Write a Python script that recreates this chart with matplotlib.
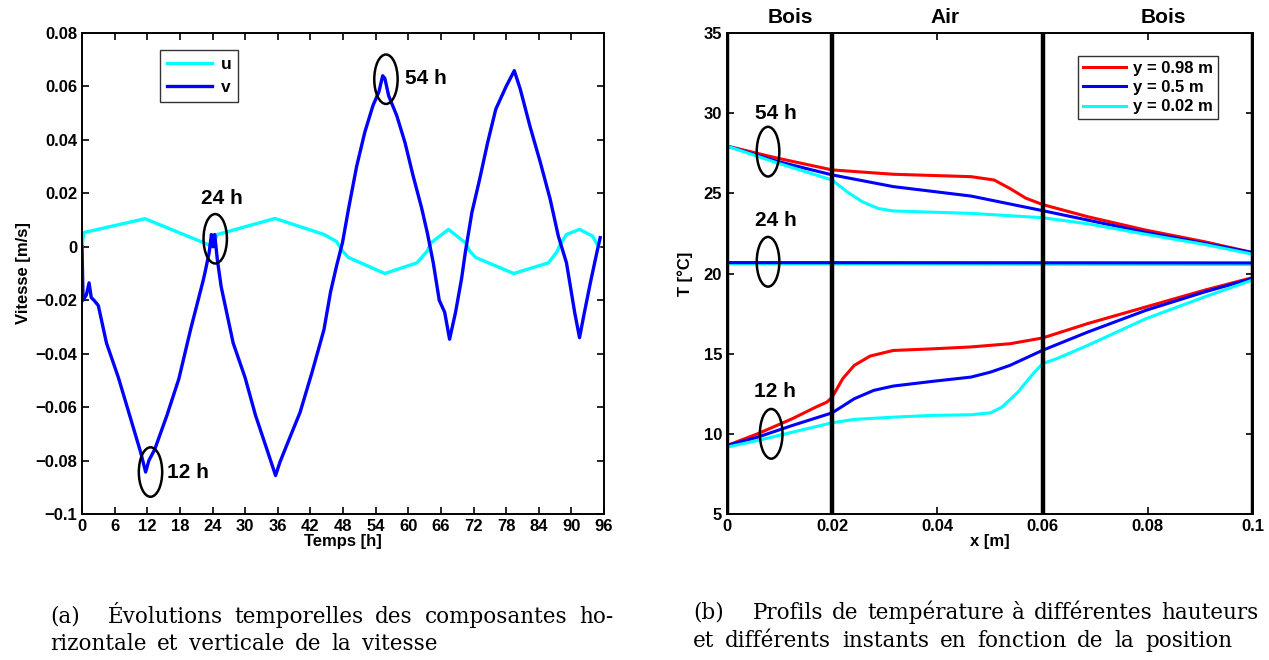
import numpy as np
import matplotlib; matplotlib.use("Agg")
import matplotlib.pyplot as plt
from matplotlib.patches import Ellipse

CYAN, BLUE, RED = "#00FFFF", "#0000FF", "#FF0000"

# ---------- (a) velocity components vs time ----------
t_u = [0, 0.3, 11.6, 23.0, 23.8, 24.9, 35.5, 44.5, 46.8, 47.9, 49.0, 55.7, 61.6, 63.5,
       64.2, 67.4, 70.5, 71.3, 72.4, 79.4, 85.8, 87.3, 88.0, 89.1, 91.5, 93.9, 95.0]
u = [0.0, 0.0053, 0.0105, 0.001, 0.0, 0.0046, 0.0106, 0.0046, 0.002, -0.0016, -0.004, -0.010,
     -0.006, -0.0016, 0.0015, 0.0065, 0.0015, -0.0016, -0.004, -0.010, -0.006, -0.002, 0.001,
     0.0046, 0.0065, 0.004, 0.0]
t_v = [0, 0.2, 0.8, 1.3, 1.7, 2.2, 3.0, 4.5, 6.7, 8.9, 10.8, 11.7, 12.3, 13.4, 15.6, 17.8,
       20.0, 22.3, 22.6, 23.4, 23.8, 24.1, 24.4, 24.9, 25.6, 27.8, 30.0, 31.9, 34.2, 35.6,
       36.4, 37.9, 40.1, 42.3, 44.5, 45.7, 46.8, 47.9, 49.0, 50.5, 52.0, 53.5, 54.6, 55.3,
       55.7, 56.4, 57.9, 59.4, 60.9, 62.4, 63.5, 64.6, 65.7, 66.7, 67.6, 68.7, 69.8, 70.5,
       71.7, 73.1, 74.6, 76.1, 78.0, 79.5, 80.6, 82.4, 84.3, 86.1, 87.6, 89.1, 89.8, 90.6,
       91.5, 92.4, 93.5, 94.7, 95.3]
v = [0.0, -0.020, -0.018, -0.0135, -0.019, -0.020, -0.022, -0.036, -0.049, -0.064, -0.077,
     -0.0843, -0.080, -0.0757, -0.0632, -0.0495, -0.0307, -0.0125, -0.0098, -0.002, 0.0046,
     0.0, 0.0046, -0.005, -0.015, -0.036, -0.049, -0.063, -0.077, -0.0856, -0.0806, -0.073,
     -0.062, -0.047, -0.031, -0.017, -0.0073, 0.0015, 0.014, 0.030, 0.0428, 0.0528, 0.058,
     0.064, 0.063, 0.0565, 0.049, 0.039, 0.0265, 0.015, 0.0053, -0.006, -0.020, -0.0245,
     -0.0346, -0.0245, -0.012, -0.002, 0.0128, 0.025, 0.039, 0.0515, 0.060, 0.0659, 0.059,
     0.045, 0.0315, 0.0178, 0.004, -0.006, -0.0146, -0.0245, -0.034, -0.0245, -0.0134,
     -0.002, 0.0034]
marks_a = [("12 h", 12.6, -0.0843, 15.6, -0.0846),
           ("24 h", 24.5, 0.003, 21.8, 0.018),
           ("54 h", 55.9, 0.0627, 59.4, 0.063)]

# ---------- (b) temperature profiles ----------
x54_r = [0, 0.0095, 0.02, 0.0316, 0.0464, 0.0508, 0.0538, 0.0568, 0.06, 0.0686, 0.0797, 0.0908, 0.1]
T54_r = [27.95, 27.2, 26.46, 26.19, 26.04, 25.83, 25.3, 24.7, 24.3, 23.54, 22.7, 21.98, 21.3]
x54_b = [0, 0.0095, 0.02, 0.0316, 0.0464, 0.06, 0.0686, 0.0797, 0.0908, 0.1]
T54_b = [27.95, 27.0, 26.15, 25.42, 24.83, 23.92, 23.33, 22.56, 21.88, 21.3]
x54_c = [0, 0.0095, 0.02, 0.0228, 0.0257, 0.0287, 0.0316, 0.0464, 0.06, 0.0686, 0.0797, 0.0908, 0.1]
T54_c = [27.95, 26.9, 25.83, 25.1, 24.48, 24.06, 23.9, 23.75, 23.48, 23.1, 22.44, 21.81, 21.2]
x24 = [0, 0.1]
T24_r = [20.65, 20.62]
T24_b = [20.68, 20.66]
T24_c = [20.6, 20.56]
x12_r = [0, 0.0058, 0.0124, 0.0169, 0.019, 0.02, 0.022, 0.0242, 0.0272, 0.0316, 0.039,
         0.0464, 0.0538, 0.06, 0.0686, 0.0797, 0.0908, 0.1]
T12_r = [9.27, 10.0, 10.94, 11.67, 11.98, 12.29, 13.44, 14.27, 14.85, 15.2, 15.3, 15.42,
         15.62, 15.98, 16.88, 17.92, 18.96, 19.75]
x12_b = [0, 0.0058, 0.0124, 0.02, 0.0242, 0.0279, 0.0316, 0.039, 0.0464, 0.0501, 0.0538,
         0.06, 0.0686, 0.0797, 0.0908, 0.1]
T12_b = [9.27, 9.79, 10.52, 11.31, 12.19, 12.71, 12.98, 13.27, 13.54, 13.85, 14.27, 15.21,
         16.35, 17.71, 18.85, 19.7]
x12_c = [0, 0.0058, 0.0124, 0.02, 0.0242, 0.0316, 0.039, 0.0464, 0.0501, 0.0523, 0.0553,
         0.0582, 0.06, 0.0627, 0.0686, 0.0797, 0.0908, 0.1]
T12_c = [9.17, 9.58, 10.1, 10.69, 10.9, 11.04, 11.15, 11.19, 11.31, 11.67, 12.6, 13.75,
         14.38, 14.69, 15.52, 17.19, 18.54, 19.6]
walls = [0, 0.02, 0.06, 0.1]
zones = [("Bois", 0.012), ("Air", 0.0414), ("Bois", 0.083)]
marks_b = [("54 h", 0.0078, 27.6, 0.0092, 30.0),
           ("24 h", 0.0078, 20.73, 0.0092, 23.3),
           ("12 h", 0.0084, 10.0, 0.0092, 12.65)]

# caption lines: (tag, text, x_start_px, x_text_px, x_end_px, baseline_px)
captions = [
    ("(a)", "\u00c9volutions temporelles des composantes ho-", 50, 108, 613, 623),
    ("", "rizontale et verticale de la vitesse", 50, 50, 437, 650),
    ("(b)", "Profils de temp\u00e9rature \u00e0 diff\u00e9rentes hauteurs", 693, 753, 1258, 619),
    ("", "et diff\u00e9rents instants en fonction de la position", 693, 693, 1232, 647),
]

plt.rcParams.update({
    "font.family": "Liberation Sans", "font.weight": "bold",
    "axes.linewidth": 1.4, "xtick.direction": "in", "ytick.direction": "in",
    "xtick.top": True, "ytick.right": True,
    "xtick.major.size": 5, "ytick.major.size": 5,
    "xtick.major.width": 1.2, "ytick.major.width": 1.2,
    "xtick.labelsize": 12, "ytick.labelsize": 12,
    "axes.labelsize": 12, "axes.labelweight": "bold",
})

W, H = 1269, 660
fig = plt.figure(figsize=(W / 100, H / 100), dpi=100)

ax = fig.add_axes([82 / W, 1 - 514 / H, 522 / W, 481 / H])
ax.plot(t_u, u, color=CYAN, lw=2.4, label="u")
ax.plot(t_v, v, color=BLUE, lw=2.4, label="v")
for lab, cx, cy, tx, ty in marks_a:
    ax.add_patch(Ellipse((cx, cy), 4.3, 0.0185, fill=False, ec="black", lw=1.8, zorder=5))
    ax.text(tx, ty, lab, fontsize=15, fontweight="bold", va="center", ha="left")
ax.set_xlim(0, 96); ax.set_ylim(-0.1, 0.08)
ax.set_xticks(np.arange(0, 97, 6))
ax.set_yticks([-0.1, -0.08, -0.06, -0.04, -0.02, 0, 0.02, 0.04, 0.06, 0.08])
ax.set_yticklabels(["\u22120.1", "\u22120.08", "\u22120.06", "\u22120.04", "\u22120.02",
                    "0", "0.02", "0.04", "0.06", "0.08"])
ax.set_xlabel("Temps [h]", labelpad=0)
ax.set_ylabel("Vitesse [m/s]", labelpad=3)
leg = ax.legend(loc="upper left", bbox_to_anchor=(0.149, 0.965), borderaxespad=0,
                fancybox=False, edgecolor="black", handlelength=2.6, handletextpad=0.5,
                borderpad=0.4, labelspacing=0.45, prop={"weight": "bold", "size": 12.5})
leg.get_frame().set_linewidth(1.0)

ax = fig.add_axes([727 / W, 1 - 514 / H, 526 / W, 481 / H])
ax.plot(x54_r, T54_r, color=RED, lw=2.2, label="y = 0.98 m")
ax.plot(x54_b, T54_b, color=BLUE, lw=2.2, label="y = 0.5 m")
ax.plot(x54_c, T54_c, color=CYAN, lw=2.2, label="y = 0.02 m")
ax.plot(x24, T24_r, color=RED, lw=2.2)
ax.plot(x24, T24_c, color=CYAN, lw=2.2)
ax.plot(x24, T24_b, color=BLUE, lw=2.2)
ax.plot(x12_r, T12_r, color=RED, lw=2.2)
ax.plot(x12_b, T12_b, color=BLUE, lw=2.2)
ax.plot(x12_c, T12_c, color=CYAN, lw=2.2)
for w in walls:
    ax.axvline(w, color="black", lw=3.2, zorder=6)
for name, xc in zones:
    ax.text(xc, 35.35, name, fontsize=15, fontweight="bold", ha="center", va="bottom")
for lab, cx, cy, tx, ty in marks_b:
    ax.add_patch(Ellipse((cx, cy), 0.0043, 3.1, fill=False, ec="black", lw=1.8, zorder=5))
    ax.text(tx, ty, lab, fontsize=15, fontweight="bold", va="center", ha="center")
ax.set_xlim(0, 0.1); ax.set_ylim(5, 35)
ax.set_xticks([0, 0.02, 0.04, 0.06, 0.08, 0.1])
ax.set_xticklabels(["0", "0.02", "0.04", "0.06", "0.08", "0.1"])
ax.set_yticks(np.arange(5, 36, 5))
ax.set_xlabel("x [m]", labelpad=0)
ax.set_ylabel("T [\u00b0C]", labelpad=8)
leg = ax.legend(loc="upper right", bbox_to_anchor=(0.933, 0.952), borderaxespad=0,
                fancybox=False, edgecolor="black", handlelength=2.6, handletextpad=0.4,
                borderpad=0.3, labelspacing=0.25, prop={"weight": "bold", "size": 12})
leg.get_frame().set_linewidth(1.0)

# captions, justified word by word
cap = dict(family="DejaVu Serif", fontsize=15.5, fontweight="normal", va="baseline")
rend = fig.canvas.get_renderer()
for tag, text, x0, xt, x1, yb in captions:
    y = 1 - yb / H
    if tag:
        fig.text(x0 / W, y, tag, **cap)
    words = text.split(" ")
    arts = [fig.text(0, y, wd, **cap) for wd in words]
    widths = [a.get_window_extent(rend).width for a in arts]
    gap = (x1 - xt - sum(widths)) / max(len(words) - 1, 1)
    xp = xt
    for a, wdt in zip(arts, widths):
        a.set_x(xp / W)
        xp += wdt + gap

fig.savefig("out.png", dpi=100)
